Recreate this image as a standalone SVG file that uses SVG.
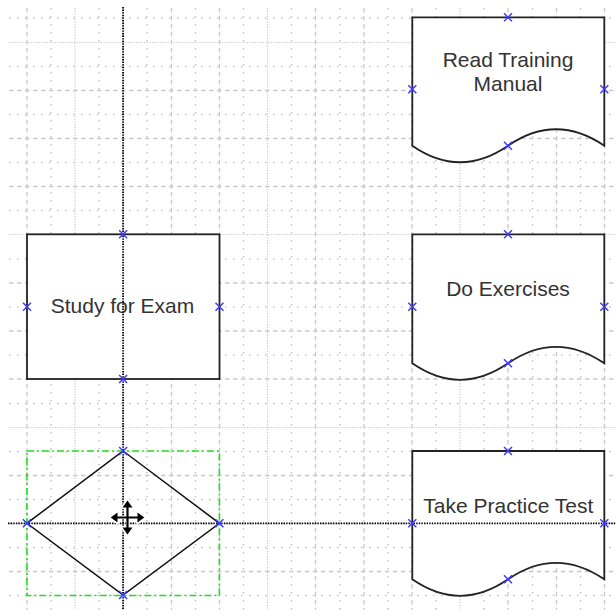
<svg xmlns="http://www.w3.org/2000/svg" xmlns:xlink="http://www.w3.org/1999/xlink" width="616" height="610" viewBox="0 0 616 610">
<style>
.g-dash{stroke:#c8c8c8;stroke-width:1.3;stroke-dasharray:4.5 3.5;fill:none}
.g-dot{stroke:#c8c8c8;stroke-width:1.2;stroke-dasharray:1.2 1.5;fill:none}
.g-min{stroke:#c4c4c4;stroke-width:1.5;stroke-dasharray:1.5 6.5;fill:none}
.shape{fill:#ffffff;stroke:#222222;stroke-width:1.8}
.dia{fill:none;stroke:#111111;stroke-width:1.5}
.lbl{font-family:"Liberation Sans",Arial,sans-serif;font-size:21px;fill:#333333;text-anchor:middle}
.guide{stroke:#000000;stroke-width:1.8;stroke-dasharray:1.4 1.2;fill:none}
.sel{fill:none;stroke:#22dd22;stroke-width:1.6;stroke-dasharray:7 3 2 3}
.xm{stroke:#3c3cff;stroke-width:1.5;fill:none}
</style>
<defs>
<path id="xm" class="xm" d="M-4,-4 L4,4 M-4,4 L4,-4"/>
</defs>
<rect width="616" height="610" fill="#ffffff"/>
<g id="grid">
<g class="g-min">
<path d="M51,8V610 M99,8V610 M147,8V610 M195.5,8V610 M243.5,8V610 M291.5,8V610 M340,8V610 M388,8V610 M436,8V610 M484,8V610 M532.5,8V610 M580.5,8V610"/>
<path d="M9,18H616 M9,66.5H616 M9,114.5H616 M9,162.5H616 M9,210.5H616 M9,259H616 M9,307H616 M9,355H616 M9,403.5H616 M9,451.5H616 M9,499.5H616 M9,547.5H616 M9,595.5H616"/>
</g>
<path class="g-dash" d="M27,8V610 M123,8V610 M171.5,8V610 M219.5,8V610 M315.5,8V610 M364,8V610 M412,8V610 M508,8V610 M556.5,8V610 M604.5,8V610"/>
<path class="g-dot" d="M75,8V610 M267.5,8V610 M460,8V610"/>
<path class="g-dash" d="M9,90.5H616 M9,138.5H616 M9,186.5H616 M9,283H616 M9,331H616 M9,379H616 M9,475.5H616 M9,523.5H616 M9,571.5H616"/>
<path class="g-dot" d="M9,42.5H616 M9,234.5H616 M9,427.5H616"/>
</g>
<g id="read-training-manual">
<path class="shape" d="M412.3,17.3 H604.3 V145.7 C572,123.7 540,123.7 508,145.7 C476,167.7 444,167.7 412.3,145.7 Z"/>
<text class="lbl" x="508" y="66.7">Read Training</text>
<text class="lbl" x="508" y="91.3">Manual</text>
</g>
<g id="do-exercises">
<path class="shape" d="M412.3,234.3 H604.3 V363.3 C572,341.3 540,341.3 508,363.3 C476,385.3 444,385.3 412.3,363.3 Z"/>
<text class="lbl" x="508" y="296">Do Exercises</text>
</g>
<g id="take-practice-test">
<path class="shape" d="M412.3,451 H604.3 V579.3 C572,557.3 540,557.3 508,579.3 C476,601.3 444,601.3 412.3,579.3 Z"/>
<text class="lbl" x="508.3" y="512.7">Take Practice Test</text>
</g>
<g id="study-for-exam">
<rect class="shape" x="27" y="234.3" width="192.5" height="144.7"/>
<text class="lbl" x="122.5" y="312.7">Study for Exam</text>
</g>
<g id="decision">
<path class="dia" d="M123.1,451 L219.4,523.3 L123.1,595 L26.9,523.3 Z"/>
<rect class="sel" x="26.9" y="451" width="192.5" height="144.5"/>
</g>
<g id="guides">
<path class="guide" d="M123.1,7V610"/>
<path class="guide" d="M8,523.3H616"/>
</g>
<g id="connection-points">
<use xlink:href="#xm" x="508" y="17.3"/>
<use xlink:href="#xm" x="412.3" y="89.3"/>
<use xlink:href="#xm" x="604.3" y="89.3"/>
<use xlink:href="#xm" x="508" y="145.7"/>
<use xlink:href="#xm" x="508" y="234.3"/>
<use xlink:href="#xm" x="412.3" y="306.7"/>
<use xlink:href="#xm" x="604.3" y="306.7"/>
<use xlink:href="#xm" x="508" y="363.3"/>
<use xlink:href="#xm" x="508" y="451"/>
<use xlink:href="#xm" x="412.3" y="523.3"/>
<use xlink:href="#xm" x="604.3" y="523.3"/>
<use xlink:href="#xm" x="508" y="579.3"/>
<use xlink:href="#xm" x="123.1" y="234.3"/>
<use xlink:href="#xm" x="27" y="306.7"/>
<use xlink:href="#xm" x="219.5" y="306.7"/>
<use xlink:href="#xm" x="123.1" y="379"/>
<use xlink:href="#xm" x="123.1" y="451"/>
<use xlink:href="#xm" x="26.9" y="523.3"/>
<use xlink:href="#xm" x="219.4" y="523.3"/>
<use xlink:href="#xm" x="123.1" y="595"/>
</g>
<g id="move-cursor">
<g stroke="#ffffff" stroke-width="3.5" fill="#ffffff" stroke-linejoin="round">
<path d="M115,517.5H140 M127.5,505V530"/>
<path d="M110.7,517.5 L117.5,512.5 L117.5,522.5 Z M144.3,517.5 L137.5,512.5 L137.5,522.5 Z M127.5,500.5 L122.5,507.5 L132.5,507.5 Z M127.5,534.5 L122.5,527.5 L132.5,527.5 Z"/>
</g>
<path d="M115,517.5H140 M127.5,505V530" stroke="#000000" stroke-width="2.2" fill="none"/>
<path d="M110.7,517.5 L117.5,512.5 L117.5,522.5 Z M144.3,517.5 L137.5,512.5 L137.5,522.5 Z M127.5,500.5 L122.5,507.5 L132.5,507.5 Z M127.5,534.5 L122.5,527.5 L132.5,527.5 Z" fill="#000000"/>
</g>
</svg>
